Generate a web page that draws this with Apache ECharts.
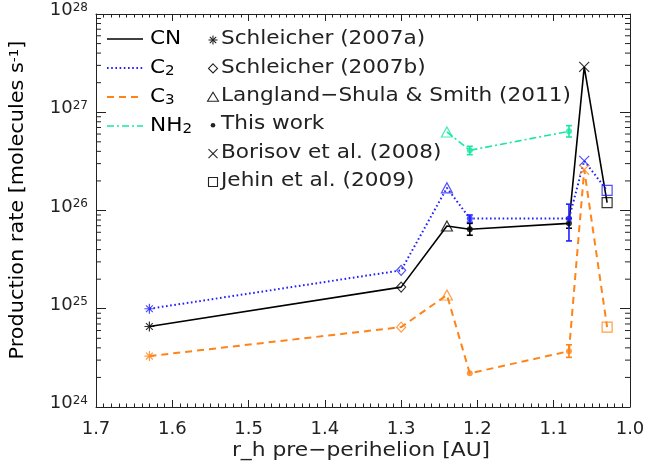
<!DOCTYPE html>
<html>
<head>
<meta charset="utf-8">
<script src="https://cdn.jsdelivr.net/npm/echarts@6/dist/echarts.min.js"></script>
<style>
  html, body { margin: 0; padding: 0; background: #fff; }
  #chart { width: 645px; height: 472px; }
</style>
</head>
<body>
<div id="chart"></div>
<script>
// Production rates (molecules/s) versus pre-perihelion heliocentric distance r_h (AU)
const rhCN  = [1.63, 1.30, 1.24, 1.21, 1.08, 1.06, 1.03];
const qCN   = [6.6e24, 1.66e25, 6.95e25, 6.45e25, 7.4e25, 2.9e27, 1.2e26];
const srcCN = ['S07a', 'S07b', 'LS11', 'TW', 'TW', 'B08', 'J09'];

const rhC2  = [1.63, 1.30, 1.24, 1.21, 1.08, 1.06, 1.03];
const qC2   = [1.0e25, 2.46e25, 1.7e26, 8.3e25, 8.3e25, 3.2e26, 1.6e26];
const srcC2 = ['S07a', 'S07b', 'LS11', 'TW', 'TW', 'B08', 'J09'];

const rhC3  = [1.63, 1.30, 1.24, 1.21, 1.08, 1.06, 1.03];
const qC3   = [3.3e24, 6.5e24, 1.38e25, 2.2e24, 3.7e24, 2.6e26, 6.5e24];
const srcC3 = ['S07a', 'S07b', 'LS11', 'TW', 'TW', 'B08', 'J09'];

const rhNH2  = [1.24, 1.21, 1.08];
const qNH2   = [6.3e26, 4.1e26, 6.4e26];
const srcNH2 = ['LS11', 'TW', 'TW'];

// Error bars for this work: [r_h, lower, upper]
const errCN  = [[1.21, 5.6e25, 7.4e25], [1.08, 6.6e25, 8.3e25]];
const errC2  = [[1.21, 7.6e25, 9.0e25], [1.08, 4.9e25, 1.16e26]];
const errC3  = [[1.08, 3.2e24, 4.3e24]];
const errNH2 = [[1.21, 3.7e26, 4.5e26], [1.08, 5.6e26, 7.3e26]];

// Reference sources
const sourceKeys   = ['S07a', 'S07b', 'LS11', 'TW', 'B08', 'J09'];
const sourceLabels = ['Schleicher (2007a)', 'Schleicher (2007b)', 'Langland\u2212Shula & Smith (2011)',
                      'This work', 'Borisov et al. (2008)', 'Jehin et al. (2009)'];

// Axis tick values
const xTickMin = 1.0, xTickMax = 1.7, xTickStep = 0.1;
const yMin = 1e24, yMax = 1e28;

const FONT = 'DejaVu Sans';
const INK = '#222';

// Marker shapes per source
const SYMBOLS = {
  S07a: { symbol: 'path://M0,5L10,5M5,0L5,10M1.6,1.6L8.4,8.4M1.6,8.4L8.4,1.6', size: 10, filled: false },
  S07b: { symbol: 'diamond', size: [9, 10], filled: false },
  LS11: { symbol: 'triangle', size: [11, 10], filled: false },
  TW:   { symbol: 'circle', size: 6, filled: true },
  B08:  { symbol: 'path://M0,0L10,10M0,10L10,0', size: 10, filled: false },
  J09:  { symbol: 'rect', size: 10, filled: false }
};

const species = [
  { name: 'CN',  label: '{m|CN}',      rh: rhCN,  q: qCN,  src: srcCN,  err: errCN,  color: '#000000', dash: 'solid',      width: 1.6 },
  { name: 'C2',  label: '{m|C}{s|2}',  rh: rhC2,  q: qC2,  src: srcC2,  err: errC2,  color: '#2020ff', dash: [1.6, 2.6],   width: 2 },
  { name: 'C3',  label: '{m|C}{s|3}',  rh: rhC3,  q: qC3,  src: srcC3,  err: errC3,  color: '#ff8418', dash: [7, 5],       width: 2 },
  { name: 'NH2', label: '{m|NH}{s|2}', rh: rhNH2, q: qNH2, src: srcNH2, err: errNH2, color: '#17e8a0', dash: [7, 3, 2, 3], width: 1.6 }
];

function errorBarRenderer(color) {
  return function (params, api) {
    const x = api.value(0);
    const lo = api.coord([x, api.value(1)]);
    const hi = api.coord([x, api.value(2)]);
    const w = 3;
    const st = { stroke: color, lineWidth: 1.6 };
    return {
      type: 'group',
      children: [
        { type: 'line', shape: { x1: lo[0], y1: lo[1], x2: hi[0], y2: hi[1] }, style: st },
        { type: 'line', shape: { x1: lo[0] - w, y1: lo[1], x2: lo[0] + w, y2: lo[1] }, style: st },
        { type: 'line', shape: { x1: hi[0] - w, y1: hi[1], x2: hi[0] + w, y2: hi[1] }, style: st }
      ]
    };
  };
}

// Log-axis minor ticks (2..9 x 10^k), drawn on both vertical frame edges
const minorLogTicks = [];
for (let e = 24; e < 28; e++) {
  for (let m = 2; m <= 9; m++) minorLogTicks.push([xTickMax, m * Math.pow(10, e)]);
}

const series = [];
species.forEach(sp => {
  series.push({
    type: 'line', name: sp.name,
    data: sp.rh.map((x, i) => [x, sp.q[i]]),
    symbol: 'none', silent: true, z: 2,
    lineStyle: { color: sp.color, width: sp.width, type: sp.dash }
  });
  series.push({
    type: 'custom', name: sp.name + ' errors',
    data: sp.err, encode: { x: 0, y: [1, 2] },
    renderItem: errorBarRenderer(sp.color), silent: true, z: 3
  });
  series.push({
    type: 'scatter', name: sp.name + ' points', silent: true, z: 4,
    data: sp.rh.map((x, i) => {
      const s = SYMBOLS[sp.src[i]];
      return {
        value: [x, sp.q[i]],
        symbol: s.symbol,
        symbolSize: s.size,
        itemStyle: { color: s.filled ? sp.color : 'none', borderColor: sp.color, borderWidth: s.filled ? 0 : 1.2 }
      };
    })
  });
});

series.push({
  type: 'custom', name: 'minor ticks', silent: true, z: 1,
  data: minorLogTicks, encode: { x: 0, y: 1 },
  renderItem: function (params, api) {
    const v = api.value(1);
    const l = api.coord([xTickMax, v]);
    const r = api.coord([xTickMin, v]);
    const st = { stroke: INK, lineWidth: 1 };
    return {
      type: 'group',
      children: [
        { type: 'line', shape: { x1: l[0], y1: l[1], x2: l[0] + 5, y2: l[1] }, style: st },
        { type: 'line', shape: { x1: r[0], y1: r[1], x2: r[0] - 5, y2: r[1] }, style: st }
      ]
    };
  }
});

// Legend drawn as graphic elements
const legendRich = {
  m: { fontFamily: FONT, fontSize: 20, lineHeight: 20, verticalAlign: 'top', color: INK },
  s: { fontFamily: FONT, fontSize: 14, lineHeight: 14, verticalAlign: 'bottom', padding: [11, 0, 0, 0], color: INK }
};
const graphics = [];
const lineRow0 = 39, lineRowStep = 29;
species.forEach((sp, i) => {
  const y = lineRow0 + i * lineRowStep;
  graphics.push({
    type: 'line', shape: { x1: 107, y1: y, x2: 143, y2: y },
    style: { stroke: sp.color, lineWidth: sp.width, lineDash: sp.dash === 'solid' ? null : sp.dash }
  });
  graphics.push({
    type: 'text', x: 150, y: y - 10, scaleX: 1.08,
    style: { text: sp.label, rich: legendRich, verticalAlign: 'top', align: 'left' }
  });
});

function legendMark(key, cx, cy) {
  const st = { stroke: INK, lineWidth: 1.1, fill: 'none' };
  const r = 4.5;
  switch (key) {
    case 'S07a': return [
      { type: 'line', shape: { x1: cx - r, y1: cy, x2: cx + r, y2: cy }, style: st },
      { type: 'line', shape: { x1: cx, y1: cy - r, x2: cx, y2: cy + r }, style: st },
      { type: 'line', shape: { x1: cx - 3.2, y1: cy - 3.2, x2: cx + 3.2, y2: cy + 3.2 }, style: st },
      { type: 'line', shape: { x1: cx - 3.2, y1: cy + 3.2, x2: cx + 3.2, y2: cy - 3.2 }, style: st }
    ];
    case 'S07b': return [{ type: 'polygon', shape: { points: [[cx, cy - r], [cx + r, cy], [cx, cy + r], [cx - r, cy]] }, style: st }];
    case 'LS11': return [{ type: 'polygon', shape: { points: [[cx, cy - r], [cx + 5.5, cy + r], [cx - 5.5, cy + r]] }, style: st }];
    case 'TW':   return [{ type: 'circle', shape: { cx: cx, cy: cy, r: 2.3 }, style: { fill: INK } }];
    case 'B08':  return [
      { type: 'line', shape: { x1: cx - r, y1: cy - r, x2: cx + r, y2: cy + r }, style: st },
      { type: 'line', shape: { x1: cx - r, y1: cy + r, x2: cx + r, y2: cy - r }, style: st }
    ];
    case 'J09':  return [{ type: 'rect', shape: { x: cx - r, y: cy - r, width: 2 * r, height: 2 * r }, style: st }];
  }
  return [];
}

const srcRow0 = 39, srcRowStep = 28.4;
sourceKeys.forEach((key, i) => {
  const y = srcRow0 + i * srcRowStep;
  legendMark(key, 213, y + 1).forEach(g => graphics.push(g));
  graphics.push({
    type: 'text', x: 221, y: y, scaleX: 1.08,
    style: { text: sourceLabels[i], fontFamily: FONT, fontSize: 20, fill: INK, verticalAlign: 'middle', align: 'left' }
  });
});

// Rotated y-axis title
graphics.push({
  type: 'text', x: 18, y: 200, rotation: Math.PI / 2, scaleX: 1.04,
  style: {
    text: '{m|Production rate [molecules s}{p|-1}{m|]}',
    align: 'center', verticalAlign: 'middle',
    rich: {
      m: { fontFamily: FONT, fontSize: 20, lineHeight: 20, verticalAlign: 'bottom', color: INK },
      p: { fontFamily: FONT, fontSize: 13, lineHeight: 13, verticalAlign: 'top', padding: [0, 0, 12, 0], color: INK }
    }
  }
});

// x-axis title
graphics.push({
  type: 'text', x: 361, y: 451, scaleX: 1.09,
  style: { text: 'r_h pre\u2212perihelion [AU]', fontFamily: FONT, fontSize: 20, fill: INK, align: 'center', verticalAlign: 'middle' }
});

const xCommon = {
  type: 'value', min: xTickMin, max: xTickMax, interval: xTickStep, inverse: true,
  axisLine: { show: true, onZero: false, lineStyle: { color: INK, width: 1 } },
  axisTick: { show: true, inside: true, length: 7, lineStyle: { color: INK, width: 1 } },
  minorTick: { show: true, splitNumber: 10, length: 3.5, lineStyle: { color: INK, width: 1 } },
  splitLine: { show: false }, minorSplitLine: { show: false }
};
const yCommon = {
  type: 'log', logBase: 10, min: yMin, max: yMax,
  axisLine: { show: true, onZero: false, lineStyle: { color: INK, width: 1 } },
  axisTick: { show: true, inside: true, length: 10, lineStyle: { color: INK, width: 1 } },
  splitLine: { show: false }, minorSplitLine: { show: false }
};

const option = {
  animation: false,
  backgroundColor: '#ffffff',
  grid: { left: 96, right: 15, top: 14, bottom: 65, containLabel: false, outerBoundsMode: 'none' },
  xAxis: [
    Object.assign({}, xCommon, {
      position: 'bottom',
      axisLabel: { show: true, margin: 13, fontFamily: FONT, fontSize: 18, color: INK, formatter: v => v.toFixed(1) }
    }),
    Object.assign({}, xCommon, { position: 'top', axisLabel: { show: false } })
  ],
  yAxis: [
    Object.assign({}, yCommon, {
      position: 'left',
      axisLabel: {
        show: true, margin: 8, padding: [0, 0, 7, 0],
        formatter: v => '{b|10}{s|' + Math.round(Math.log10(v)) + '}',
        rich: {
          b: { fontFamily: FONT, fontSize: 18, lineHeight: 18, verticalAlign: 'bottom', color: INK },
          s: { fontFamily: FONT, fontSize: 12, lineHeight: 12, verticalAlign: 'top', padding: [0, 0, 13, 0], color: INK }
        }
      }
    }),
    Object.assign({}, yCommon, { position: 'right', axisLabel: { show: false } })
  ],
  graphic: graphics,
  series: series
};

const chart = echarts.init(document.getElementById('chart'), null, { renderer: 'canvas' });
chart.setOption(option);
</script>
</body>
</html>
